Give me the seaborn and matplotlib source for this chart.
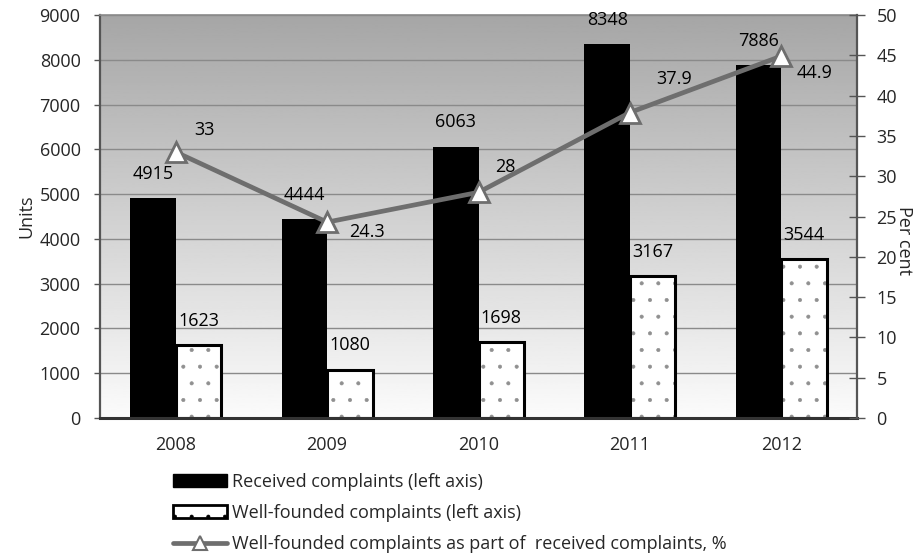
import numpy as np
import pandas as pd
import matplotlib
matplotlib.use("Agg")
import matplotlib.pyplot as plt
import matplotlib.patches as mpatches
from matplotlib.lines import Line2D
import seaborn as sns

# Complaints data
years = ["2008", "2009", "2010", "2011", "2012"]
received = [4915, 4444, 6063, 8348, 7886]
well_founded = [1623, 1080, 1698, 3167, 3544]
share_pct = [33, 24.3, 28, 37.9, 44.9]

series_names = ["Received complaints (left axis)", "Well-founded complaints (left axis)"]
line_name = "Well-founded complaints as part of  received complaints, %"

# label offsets (points) for the percentage labels
pct_offsets = [(21, 16), (29, -7), (19, 18), (32, 24), (24, -12)]

FS = 13

sns.set_theme(style="white")
plt.rcParams["font.family"] = ["Open Sans", "DejaVu Sans"]
plt.rcParams["font.size"] = FS
plt.rcParams["hatch.linewidth"] = 0.45

df = pd.DataFrame({
    "Year": years * 2,
    "Value": received + well_founded,
    "Series": [series_names[0]] * len(years) + [series_names[1]] * len(years),
})

fig = plt.figure(figsize=(9.21, 5.58), dpi=100)
ax = fig.add_axes([100 / 921, 1 - 418 / 558, 757 / 921, 403 / 558])

# gradient plot background (grey at top, near white at bottom)
grad = np.linspace(0.65, 0.985, 256).reshape(-1, 1)
ax.imshow(grad, extent=(0, 1, 0, 1), transform=ax.transAxes, aspect="auto",
          cmap="gray", vmin=0, vmax=1, origin="upper", zorder=0.1)

sns.barplot(data=df, x="Year", y="Value", hue="Series", palette=["black", "white"],
            width=0.6, saturation=1, legend=False, ax=ax, zorder=2)

rec_bars, wf_bars = ax.containers[0], ax.containers[1]
for p in rec_bars:
    p.set_facecolor("black")
    p.set_edgecolor("black")
    p.set_linewidth(0)
for p in wf_bars:
    p.set_facecolor("white")
    p.set_edgecolor("#909090")
    p.set_hatch(".")
    p.set_linewidth(0)
    ax.add_patch(mpatches.Rectangle(p.get_xy(), p.get_width(), p.get_height(),
                                    fill=False, edgecolor="black", linewidth=2.2, zorder=2.5))

for bars, vals in ((rec_bars, received), (wf_bars, well_founded)):
    for p, v in zip(bars, vals):
        ax.annotate(f"{v}", xy=(p.get_x() + p.get_width() / 2, v), xytext=(0, 11),
                    textcoords="offset points", ha="center", va="bottom",
                    fontsize=FS, color="black", zorder=5)

ax.set_xlim(-0.5, len(years) - 0.5)
ax.set_ylim(0, 9000)
ax.set_yticks(np.arange(0, 9001, 1000))
ax.yaxis.grid(True, color="#8a8a8a", linewidth=1)
ax.xaxis.grid(False)
ax.set_axisbelow(True)
ax.set_xlabel("")
ax.set_ylabel("Units", fontsize=FS, labelpad=3)

ax.set_xticks(np.arange(-0.5, len(years)), minor=True)
ax.tick_params(axis="x", which="major", length=0, pad=13, labelsize=FS)
ax.tick_params(axis="x", which="minor", length=5, width=1, color="#444444", direction="out")
ax.tick_params(axis="y", which="major", length=4, width=1, color="#555555",
               direction="out", left=True, labelsize=FS, pad=10)

for side, (col, lw) in {"left": ("#555555", 1.6), "bottom": ("#333333", 2.2),
                        "top": ("#8a8a8a", 1.2), "right": ("#555555", 1.2)}.items():
    ax.spines[side].set_color(col)
    ax.spines[side].set_linewidth(lw)
    ax.spines[side].set_visible(True)

# percentage line on the secondary axis
ax2 = ax.twinx()
pos = np.arange(len(years))
sns.lineplot(x=pos, y=share_pct, ax=ax2, color="#6e6e6e", linewidth=3.4,
             marker="^", markersize=14, markerfacecolor="white",
             markeredgecolor="#6e6e6e", markeredgewidth=2, zorder=4)
for i, (v, off) in enumerate(zip(share_pct, pct_offsets)):
    ax2.annotate(f"{v:g}", xy=(i, v), xytext=off, textcoords="offset points",
                 ha="center", va="center", fontsize=FS, color="black")

ax2.set_ylim(0, 50)
ax2.set_yticks(np.arange(0, 51, 5))
ax2.set_xlim(-0.5, len(years) - 0.5)
ax2.tick_params(axis="y", which="major", length=12, width=1, color="#555555",
                direction="inout", right=True, labelsize=FS, pad=8)
ax2.set_ylabel("Per cent", rotation=270, fontsize=FS, va="center", ha="center")
ax2.yaxis.set_label_coords(1.062, 0.44)
ax2.grid(False)
for side in ("left", "top", "bottom"):
    ax2.spines[side].set_visible(False)
ax2.spines["right"].set_color("#555555")
ax2.spines["right"].set_linewidth(1.6)

handles = [
    mpatches.Patch(facecolor="black", edgecolor="black", linewidth=1),
    mpatches.Patch(facecolor="white", edgecolor="black", hatch=".", linewidth=2),
    Line2D([], [], color="#6e6e6e", linewidth=3.4, marker="^", markersize=10,
           markerfacecolor="white", markeredgecolor="#6e6e6e", markeredgewidth=1.5),
]
fig.legend(handles, series_names + [line_name], loc="upper left",
           bbox_to_anchor=(173 / 921, 1 - 473 / 558), frameon=False,
           borderpad=0, borderaxespad=0, handlelength=3.0, handleheight=0.75,
           handletextpad=0.25, labelspacing=0.72, fontsize=FS)

fig.savefig("out.png", dpi=100, facecolor="white")
